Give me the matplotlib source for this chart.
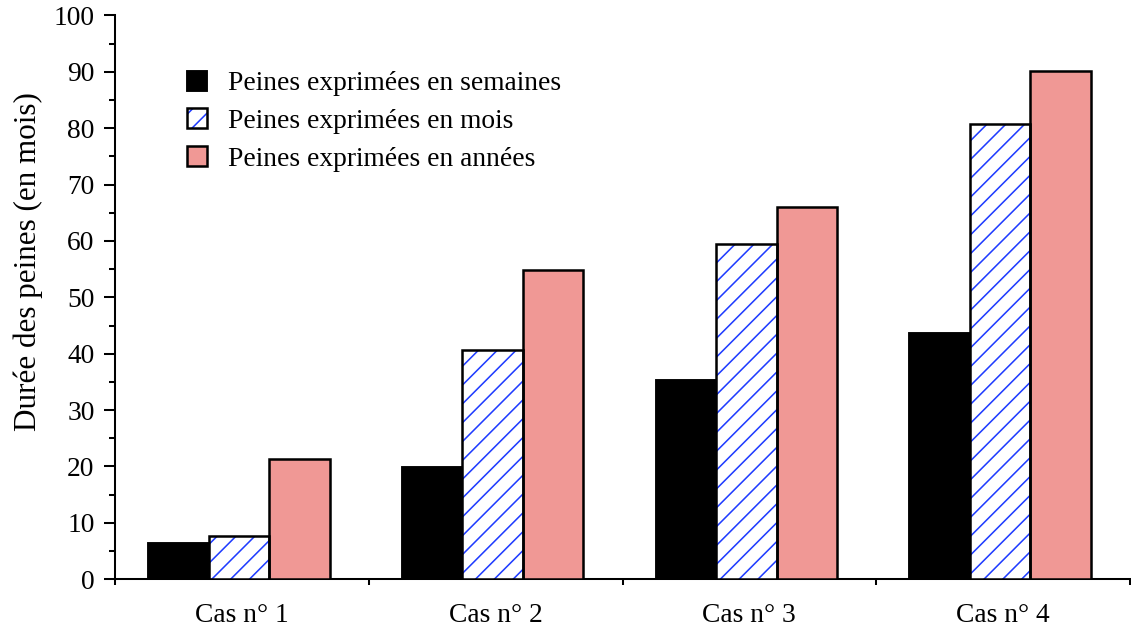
import matplotlib
matplotlib.use("Agg")
import matplotlib.pyplot as plt
from matplotlib.patches import Patch
from matplotlib.legend_handler import HandlerTuple
from matplotlib.ticker import MultipleLocator, FixedLocator
import numpy as np

categories = ["Cas n° 1", "Cas n° 2", "Cas n° 3", "Cas n° 4"]
semaines = [6.4, 19.9, 35.3, 43.6]
mois = [7.6, 40.7, 59.5, 80.7]
annees = [21.3, 54.9, 66.0, 90.1]
series_labels = ["Peines exprimées en semaines",
                 "Peines exprimées en mois",
                 "Peines exprimées en années"]
yticks = list(range(0, 101, 10))

plt.rcParams["font.family"] = ["Liberation Serif", "DejaVu Serif"]
plt.rcParams["hatch.linewidth"] = 1.0

fig = plt.figure(figsize=(10.0, 629 / 113.1), dpi=113.1)
ax = fig.add_axes([115 / 1131, 1 - 579.3 / 629, (1130 - 115) / 1131, (579.3 - 15.3) / 629])

x = np.arange(len(categories)) - 0.012
w = 0.2385
pink = "#F09895"
blue = "#1f3cff"

ax.bar(x - w, semaines, w, color="black", edgecolor="black", linewidth=1.2, zorder=3)
ax.bar(x, mois, w, facecolor="white", edgecolor=blue, hatch="//", linewidth=0, zorder=3)
ax.bar(x, mois, w, facecolor="none", edgecolor="black", linewidth=1.6, zorder=4)
ax.bar(x + w, annees, w, color=pink, edgecolor="black", linewidth=1.6, zorder=3)

ax.set_xlim(-0.5, len(categories) - 0.5)
ax.set_ylim(0, 100)

ax.spines["top"].set_visible(False)
ax.spines["right"].set_visible(False)
ax.spines["left"].set_linewidth(1.3)
ax.spines["bottom"].set_linewidth(1.3)

ax.yaxis.set_major_locator(FixedLocator(yticks))
ax.yaxis.set_minor_locator(MultipleLocator(5))
ax.tick_params(axis="y", which="major", direction="out", length=7, width=1.3,
               labelsize=17.5, pad=6)
ax.tick_params(axis="y", which="minor", direction="out", length=4, width=1.3)

ax.set_xticks(np.arange(len(categories)))
ax.set_xticklabels(categories)
ax.xaxis.set_minor_locator(FixedLocator(np.arange(-0.5, len(categories), 1.0)))
ax.tick_params(axis="x", which="major", length=0, labelsize=17.5, pad=15)
ax.tick_params(axis="x", which="minor", direction="out", length=4, width=1.3)

ax.set_ylabel("Durée des peines (en mois)", fontsize=19.8)
ax.yaxis.set_label_coords(-0.071, 0.5626)

h1 = Patch(facecolor="black", edgecolor="black", linewidth=1.2)
h2 = (Patch(facecolor="white", edgecolor=blue, hatch="//", linewidth=0),
      Patch(facecolor="none", edgecolor="black", linewidth=1.6))
h3 = Patch(facecolor=pink, edgecolor="black", linewidth=1.6)
ax.legend([h1, h2, h3], series_labels,
          handler_map={tuple: HandlerTuple(ndivide=1, pad=0)},
          loc="upper left", bbox_to_anchor=(0.060, 0.921), frameon=False,
          fontsize=17.5, handlelength=0.73, handleheight=0.73, handletextpad=0.75,
          labelspacing=0.44, borderaxespad=0)

fig.savefig("out.png", dpi=113.1)
